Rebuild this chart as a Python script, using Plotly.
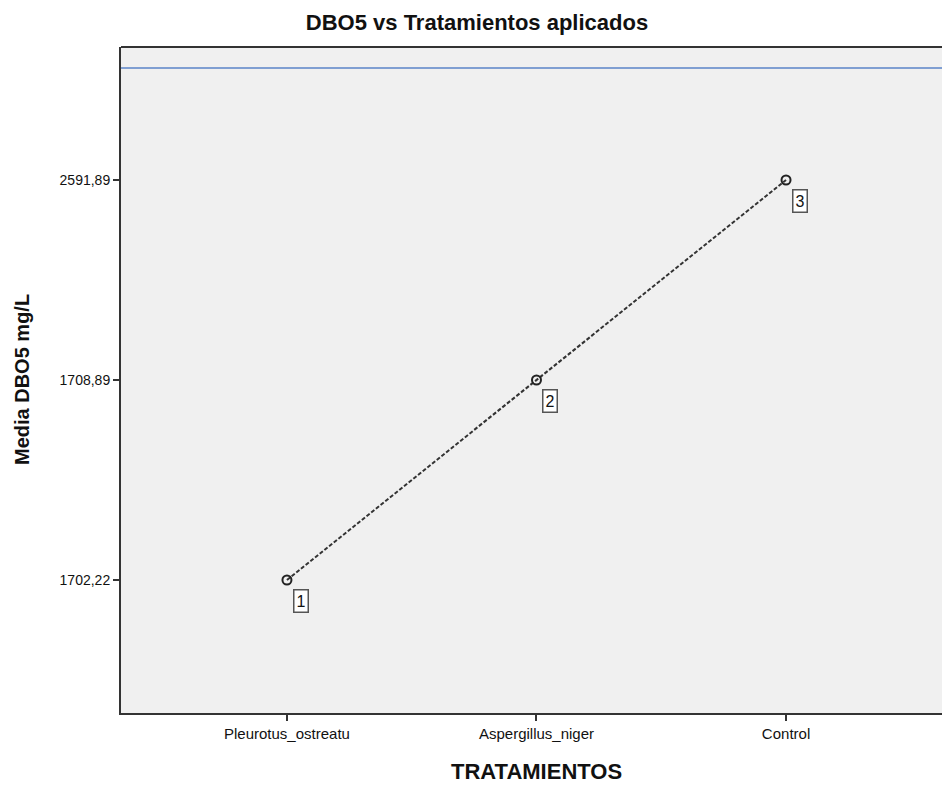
import plotly.graph_objects as go

tratamientos = ["Pleurotus_ostreatu", "Aspergillus_niger", "Control"]
media_dbo5 = [1702.22, 1708.89, 2591.89]
etiquetas = ["1", "2", "3"]

def fmt(v):
    return f"{v:.2f}".replace(".", ",")

y_labels = [fmt(v) for v in media_dbo5]

FONT = "Liberation Sans, Arial, sans-serif"

fig = go.Figure()
fig.add_trace(go.Scatter(
    x=tratamientos, y=y_labels, mode="lines+markers",
    line=dict(color="#333333", width=2, dash="4px,2px"),
    marker=dict(symbol="circle-open", size=9, color="#222222", line=dict(width=2)),
    showlegend=False, hoverinfo="skip"))

for xv, yv, lab in zip(tratamientos, y_labels, etiquetas):
    fig.add_annotation(x=xv, y=yv, text=lab, showarrow=False,
                       xshift=14, yshift=-21,
                       font=dict(family=FONT, size=16, color="#111"),
                       bgcolor="white", bordercolor="#555555", borderwidth=1.5, borderpad=2)

# blue reference line and top frame
fig.add_shape(type="line", xref="paper", yref="paper", x0=0, x1=1, y0=0.9685, y1=0.9685,
              line=dict(color="#5B85C9", width=1.3))
fig.add_shape(type="line", xref="paper", yref="paper", x0=0, x1=1, y0=1, y1=1,
              line=dict(color="#333", width=2))

fig.update_layout(
    width=942, height=785,
    margin=dict(l=121, r=0, t=47, b=72),
    paper_bgcolor="white", plot_bgcolor="#F0F0F0",
    font=dict(family=FONT, size=13, color="#222"),
    title=dict(text="<b>DBO5 vs Tratamientos aplicados</b>", x=477/942, xanchor="center",
               y=1-22/785, yanchor="middle",
               font=dict(size=22, color="#111")),
)
fig.update_xaxes(type="category", categoryarray=tratamientos, range=[-0.665, 2.625],
                 showgrid=False, zeroline=False, showline=True, linecolor="#333", linewidth=2,
                 mirror=False, ticks="outside", ticklen=6, tickcolor="#333", tickwidth=1.5,
                 tickfont=dict(size=15, color="#111"))
fig.update_yaxes(type="category", categoryarray=y_labels, range=[-0.665, 2.665],
                 showgrid=False, zeroline=False, showline=True, linecolor="#333", linewidth=2,
                 ticks="outside", ticklen=6, tickcolor="#333", tickwidth=1.5,
                 tickfont=dict(size=14, color="#111"))

fig.add_annotation(text="<b>TRATAMIENTOS</b>", xref="paper", yref="paper",
                   x=(536-121)/821, y=-(771-713)/666, showarrow=False,
                   xanchor="center", yanchor="middle", font=dict(size=22, color="#111"))
fig.add_annotation(text="<b>Media DBO5 mg/L</b>", xref="paper", yref="paper",
                   x=-(121-22)/821, y=(713-380)/666, showarrow=False, textangle=-90,
                   xanchor="center", yanchor="middle", font=dict(size=20, color="#111"))

fig.write_html("out.html", config={"displayModeBar": False},
               post_script="document.body.style.margin='0px';document.body.style.overflow='hidden';")
